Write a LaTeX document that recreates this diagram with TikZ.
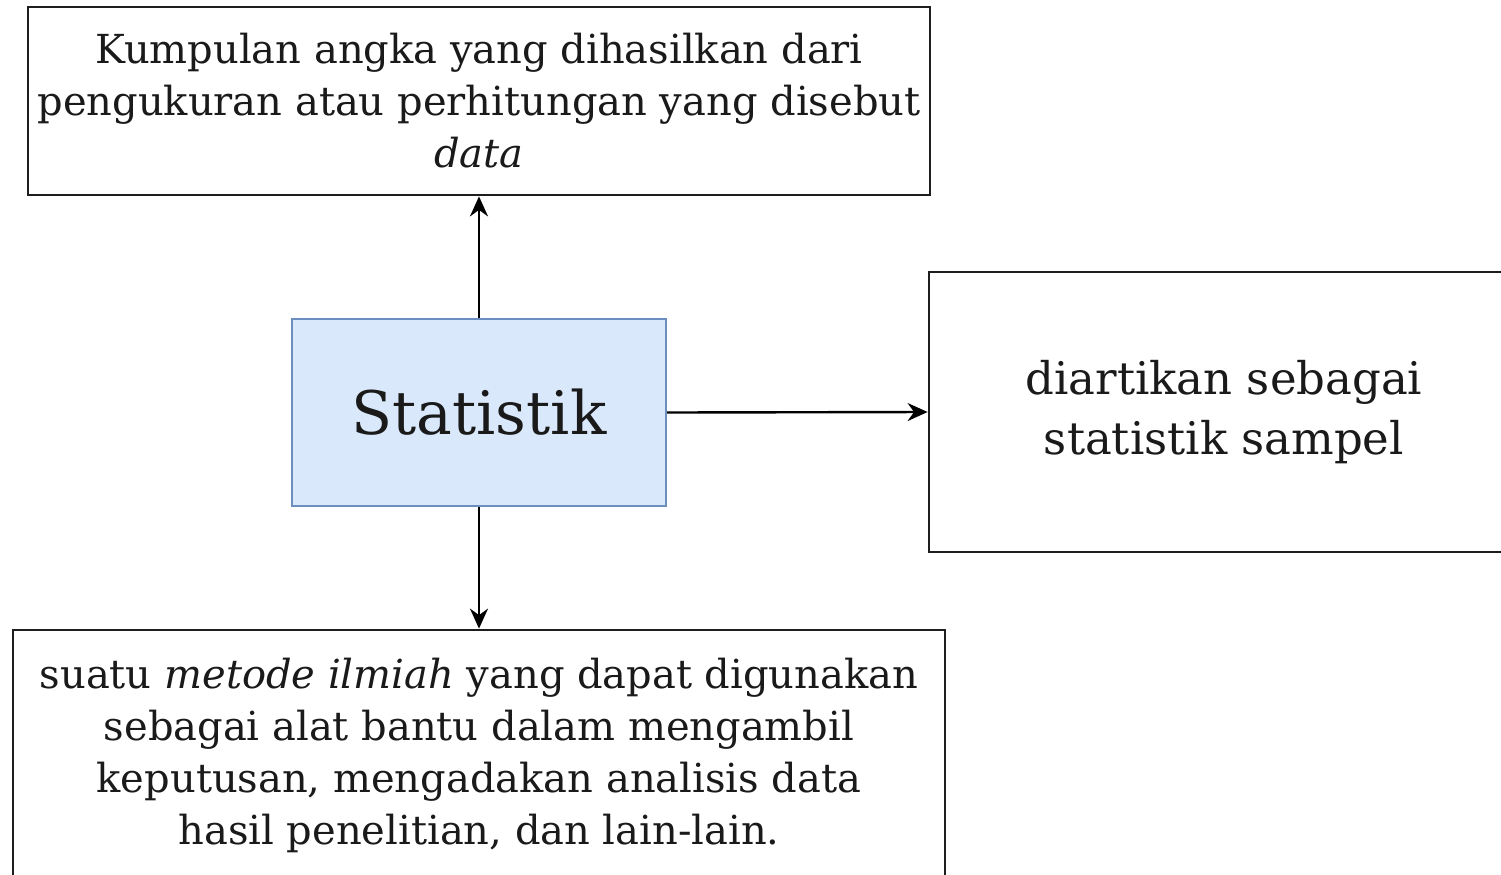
\documentclass[tikz,border=0pt]{standalone}
\usepackage{fontspec}
\setmainfont{DejaVu Serif}
\usetikzlibrary{positioning,arrows.meta}

\definecolor{boxline}{HTML}{1E1E1E}
\definecolor{statfill}{HTML}{DAE8FC}
\definecolor{statline}{HTML}{6C8EBF}
\definecolor{txt}{HTML}{1A1A1A}

\begin{document}
\begin{tikzpicture}[
        x=0.5pt, y=-0.5pt,
        box/.style={rectangle, draw=boxline, line width=1.4pt, fill=white, text=txt, align=center},
        mainbox/.style={rectangle, draw=statline, line width=1pt, fill=statfill, text=txt,
                font=\fontsize{30}{36}\selectfont},
        bodytext/.style={font=\fontsize{20}{26}\selectfont},
        bigtext/.style={font=\fontsize{22.5}{30}\selectfont},
        arrowline/.style={-{Stealth[length=10pt,width=9pt]}, line width=1.2pt, black}
    ]

    % frame of the picture
    \clip (0,0) rectangle (1501,874);
    \fill[white] (0,0) rectangle (1501,874);

    % Statistik (centre)
    \node[mainbox, minimum width=187pt, minimum height=93.5pt] (stat) at (479,412.5) {\raisebox{-2pt}{Statistik}};

    % data (top)
    \node[box, bodytext, minimum width=451pt, minimum height=94pt] (data) at (479,101)
        {Kumpulan angka yang dihasilkan dari\\pengukuran atau perhitungan yang disebut\\\textit{data}};

    % sampel (right)
    \node[box, bigtext, minimum width=295pt, minimum height=140pt] (sampel) at (1224,412)
        {\rule{0pt}{8pt}diartikan sebagai\\statistik sampel};

    % metode (bottom)
    \node[box, bodytext, minimum width=466pt, minimum height=125pt] (metode) at (479,755)
        {suatu \textit{metode ilmiah} yang dapat digunakan\\sebagai alat bantu dalam mengambil\\keputusan, mengadakan analisis data\\hasil penelitian, dan lain-lain.};

    % connections
    \draw[arrowline] (stat.north) -- (data.south);
    \draw[arrowline] (stat.east) -- (sampel.west);
    \draw[arrowline] (stat.south) -- (metode.north);

\end{tikzpicture}
\end{document}
